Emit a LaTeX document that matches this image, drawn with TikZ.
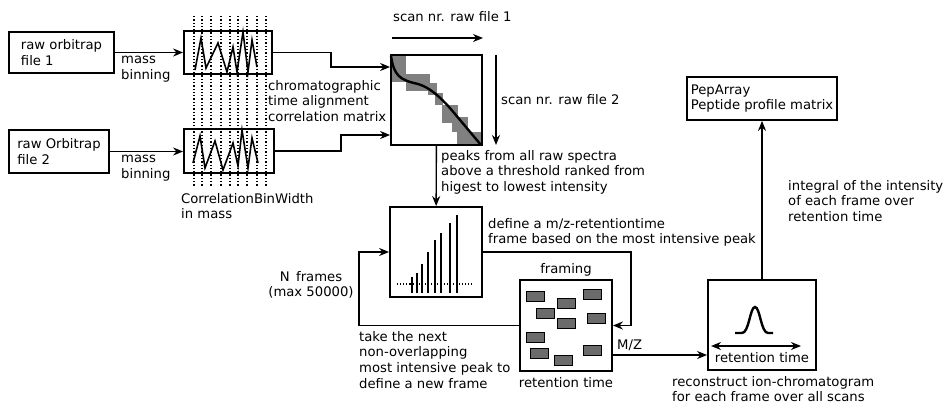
\documentclass[tikz,border=0pt]{standalone}
\usepackage{fontspec}
\setmainfont{DejaVu Sans}
\usetikzlibrary{positioning,arrows.meta}

\begin{document}
\begin{tikzpicture}[x=1pt, y=-1pt, font=\fontsize{13.2}{15.7}\selectfont,
  >={Stealth[length=10pt, width=8pt]},
  box/.style={draw=black, line width=1.8pt, inner sep=0pt, align=left},
  lbl/.style={inner sep=0pt, align=left, anchor=north west},
  arr/.style={->, line width=1.4pt},
  binline/.style={dotted, line width=1.3pt},
  spot/.style={draw=black, fill=black!58, line width=0.9pt},
  zig/.style={line width=1.6pt, line join=miter}]
\useasboundingbox (0,0) rectangle (944,409);

% contents drawn first, boxes on top
\foreach \x in {194,202,211,221,230,238,247,257,266}
  \draw[binline] (\x,16) -- (\x,187);
\draw[zig] (195,70) -- (201,38) -- (206,68) -- (218,43) -- (227,72) -- (233,47)
  -- (237,72) -- (243,32) -- (248,72) -- (252,40) -- (257,67);
\draw[zig] (193,163) -- (200,136) -- (205,168) -- (215,141) -- (223,170) -- (233,143)
  -- (238,166) -- (242,130) -- (248,168) -- (252,138) -- (258,163);

% correlation matrix
\fill[black!50] (391,56) rectangle (406,82);
\fill[black!50] (406,74) rectangle (430,91);
\fill[black!50] (428,83) rectangle (437,95);
\fill[black!50] (435,93) rectangle (443,105);
\fill[black!50] (442,105) rectangle (458,123);
\fill[black!50] (452,117) rectangle (468,132);
\fill[black!50] (457,132) rectangle (482,145);
\draw[line width=2.4pt] (391,56) .. controls (394,76) and (400,80) .. (418,84)
  .. controls (432,88) and (445,102) .. (455,114) -- (481,145);

% ranked peaks
\foreach \x/\t in {412/277,417/273,422/264,428/252,435/240,441/233,450/223,457/215}
  \draw[line width=1.6pt] (\x,293) -- (\x,\t);
\draw[binline, line width=1.1pt] (397,284) -- (472,284);

% frames
\foreach \x/\y in {526/291,557/298,583/289,536/308,557/318,587/313,526/332,530/348,583/345,554/355}
  \draw[spot] (\x,\y) rectangle ++(18,10);

% ion chromatogram
\draw[line width=2.4pt] (735,333) -- (742,333) .. controls (749,333) and (750,307) .. (755,307)
  .. controls (760,307) and (761,333) .. (768,333) -- (773,333);
\coordinate (rt1) at (711,346);
\coordinate (rt2) at (801,346);
\draw[<->, line width=1.4pt] (rt1) -- (rt2);

\node[box, minimum width=105pt, minimum height=41pt] (raw1) at (61.5,52.5) {raw orbitrap\\file 1};
\node[box, minimum width=100pt, minimum height=43pt] (raw2) at (59,151.5) {raw Orbitrap\\file 2};
\node[box, minimum width=88pt, minimum height=43pt] (spec1) at (228,52.5) {};
\node[box, minimum width=90pt, minimum height=44pt] (spec2) at (229,151) {};
\node[box, minimum width=91pt, minimum height=90pt] (corr) at (436.5,100) {};
\node[box, minimum width=92pt, minimum height=90pt] (peaks) at (436,252) {};
\node[box, minimum width=92pt, minimum height=91pt] (frames) at (566,325.5) {};
\node[box, minimum width=108pt, minimum height=90pt] (recon) at (762,325) {};
\node[box, minimum width=150pt, minimum height=43pt] (peparray) at (762,98.5)
  {PepArray\\Peptide profile matrix};

\node[inner sep=0pt, above=3pt of frames] (framingtxt) {framing};
\node[inner sep=0pt, below=5pt of frames] (rttxt) {retention time};
\node[inner sep=0pt, anchor=west] (mztxt) at (617,345) {M/Z};
\node[inner sep=0pt] (rtin) at (762,358) {retention time};

\node[lbl] (bin1) at (121,56) {mass\\binning};
\node[lbl] (bin2) at (121,155) {mass\\binning};
\node[lbl] (aligntxt) at (268,80) {chromatographic\\time alignment\\correlation matrix};
\node[lbl] (bintxt) at (181,193) {CorrelationBinWidth\\in mass};
\node[lbl] (scan1txt) at (393,11) {scan nr. raw file 1};
\node[lbl, anchor=west] (scan2txt) at (501,100) {scan nr. raw file 2};
\node[lbl] (peaktxt) at (441,150)
  {peaks from all raw spectra\\above a threshold ranked from\\higest to lowest intensity};
\node[lbl] (definetxt) at (488,218)
  {define a m/z-retentiontime\\frame based on the most intensive peak};
\node[align=center, inner sep=0pt] (ntxt) at (311,285) {N\, frames\\(max 50000)};
\node[lbl] (nexttxt) at (359,331)
  {take the next\\non-overlapping\\most intensive peak to\\define a new frame};
\node[lbl] (recontxt) at (672,376)
  {reconstruct ion-chromatogram\\for each frame over all scans};
\node[lbl] (inttxt) at (788,180)
  {integral of the intensity\\of each frame over\\retention time};

\coordinate (scan1a) at (392,38);
\coordinate (scan1b) at (483,38);
\coordinate (scan2a) at (496,55);
\coordinate (scan2b) at (496,145);
\coordinate (in1) at (0,67);
\coordinate (in2) at (0,135);
\coordinate (outy) at (0,355);

\draw[arr] (raw1) -- (spec1);
\draw[arr] (raw2.east) -- (raw2.east -| spec2.west);
\draw[arr] (spec1.east) -- ++(58,0) |- (corr.west |- in1);
\draw[arr] (spec2.east) -- ++(66,0) |- (corr.west |- in2);
\draw[arr] (scan1a) -- (scan1b);
\draw[arr] (scan2a) -- (scan2b);
\draw[arr] (corr) -- (peaks);
\draw[arr] (peaks.east) -- ++(148,0) |- (frames.east);
\draw[arr] (frames.west) -- ++(-160,0) |- (peaks.west);
\draw[arr] (frames.east |- outy) -- (recon.west |- outy);
\draw[arr] (recon) -- (peparray);
\end{tikzpicture}
\end{document}
